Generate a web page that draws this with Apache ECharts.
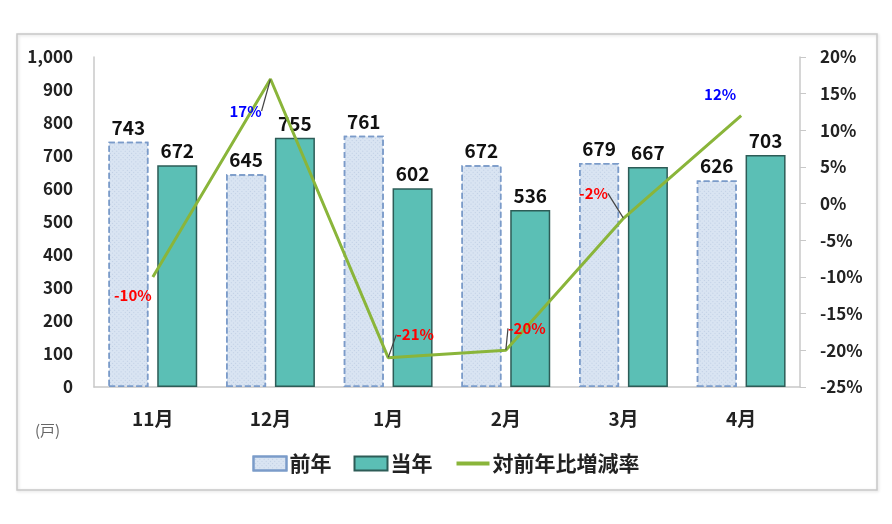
<!DOCTYPE html>
<html>
<head>
<meta charset="utf-8">
<script src="https://cdn.jsdelivr.net/npm/echarts@6/dist/echarts.min.js"></script>
<style>
html, body { margin: 0; padding: 0; background: #fff; }
#main { width: 892px; height: 524px; }
</style>
</head>
<body>
<div id="main"></div>
<script>
var months = ['11月', '12月', '1月', '2月', '3月', '4月'];
var prevYear = [743, 645, 761, 672, 679, 626];
var curYear = [672, 755, 602, 536, 667, 703];
var rate = [-10, 17, -21, -20, -2, 12];

// ラベルのずらし量（ピクセル）
var rateLabelShift = [[-20, 18], [-25, 32], [27, -23], [21, -22], [-30, -25], [-21, -21]];
var rateLeader = [false, true, true, true, true, false];

var fontJP = '"Noto Sans CJK JP", "Noto Sans", sans-serif';

var myChart = echarts.init(document.getElementById('main'));

var rateData = rate.map(function(v, i) {
	return {
		value: v,
		label: { color: v < 0 ? '#ff0000' : '#0000ff' },
		labelLine: { show: rateLeader[i] }
	};
});

var option = {
	animation: false,
	textStyle: { fontFamily: fontJP },
	graphic: [{
		type: 'rect',
		shape: { x: 17, y: 34, width: 860, height: 456 },
		style: { fill: 'none', stroke: '#c8c8c8', lineWidth: 1.5, shadowColor: 'rgba(0,0,0,0.15)', shadowBlur: 3, shadowOffsetX: 1, shadowOffsetY: 1 },
		z: -1
	}, {
		type: 'text',
		left: 35,
		top: 423,
		style: { text: '(戸)', fill: '#666', font: '15px ' + fontJP }
	}],
	grid: { left: 94, right: 92, top: 57, bottom: 137 },
	legend: {
		top: 448,
		left: 'center',
		itemWidth: 33,
		itemHeight: 14,
		itemGap: 22,
		textStyle: { fontSize: 21, fontWeight: 'bold', color: '#222', padding: [0, 0, 0, -2] },
		data: [
			{ name: '前年', icon: 'rect' },
			{ name: '当年', icon: 'rect' },
			{ name: '対前年比増減率', lineStyle: { width: 4 } }
		]
	},
	xAxis: {
		type: 'category',
		data: months,
		axisLine: { lineStyle: { color: '#c8c8c8', width: 1.5 } },
		axisTick: { show: false },
		axisLabel: { margin: 22, fontSize: 19, fontWeight: 'bold', color: '#222' }
	},
	yAxis: [{
		type: 'value',
		min: 0,
		max: 1000,
		interval: 100,
		splitLine: { show: false },
		axisLine: { show: true, lineStyle: { color: '#c8c8c8', width: 1.5 } },
		axisTick: { show: false },
		axisLabel: {
			margin: 21,
			fontSize: 17,
			fontWeight: 'bold',
			color: '#222',
			formatter: function(v) { return v >= 1000 ? '1,000' : v; }
		}
	}, {
		type: 'value',
		min: -25,
		max: 20,
		interval: 5,
		splitLine: { show: false },
		axisLine: { show: true, lineStyle: { color: '#c8c8c8', width: 1.5 } },
		axisTick: { show: true, length: 6, lineStyle: { color: '#c8c8c8' } },
		axisLabel: { margin: 20, fontSize: 17, fontWeight: 'bold', color: '#222', formatter: '{value}%' }
	}],
	series: [{
		name: '前年',
		type: 'bar',
		data: prevYear,
		barWidth: 40,
		barGap: '22%',
		itemStyle: {
			color: '#d9e4f2',
			borderColor: '#7b9bc9',
			borderWidth: 1.5,
			borderType: 'dashed',
			decal: {
				symbol: 'rect',
				symbolSize: 1,
				dashArrayX: [1, 2],
				dashArrayY: [1, 2],
				rotation: 0.785,
				color: 'rgba(160,180,210,0.45)'
			}
		},
		label: { show: true, position: 'top', distance: 5, fontSize: 19, fontWeight: 'bold', color: '#111' }
	}, {
		name: '当年',
		type: 'bar',
		data: curYear,
		barWidth: 40,
		itemStyle: { color: '#5bbfb5', borderColor: '#2d5c57', borderWidth: 1.5 },
		label: { show: true, position: 'top', distance: 5, fontSize: 19, fontWeight: 'bold', color: '#111' }
	}, {
		name: '対前年比増減率',
		type: 'line',
		yAxisIndex: 1,
		data: rateData,
		symbol: 'circle',
		symbolSize: 1,
		showSymbol: true,
		lineStyle: { color: '#8ab53a', width: 3 },
		itemStyle: { color: 'rgba(0,0,0,0)' },
		z: 5,
		label: {
			show: true,
			position: 'inside',
			fontSize: 15,
			fontWeight: 'bold',
			formatter: '{c}%'
		},
		labelLine: { show: true, lineStyle: { color: '#444', width: 1.2 } },
		labelLayout: function(params) {
			var s = rateLabelShift[params.dataIndex];
			return { dx: s[0], dy: s[1] };
		}
	}]
};

myChart.setOption(option);
</script>
</body>
</html>
